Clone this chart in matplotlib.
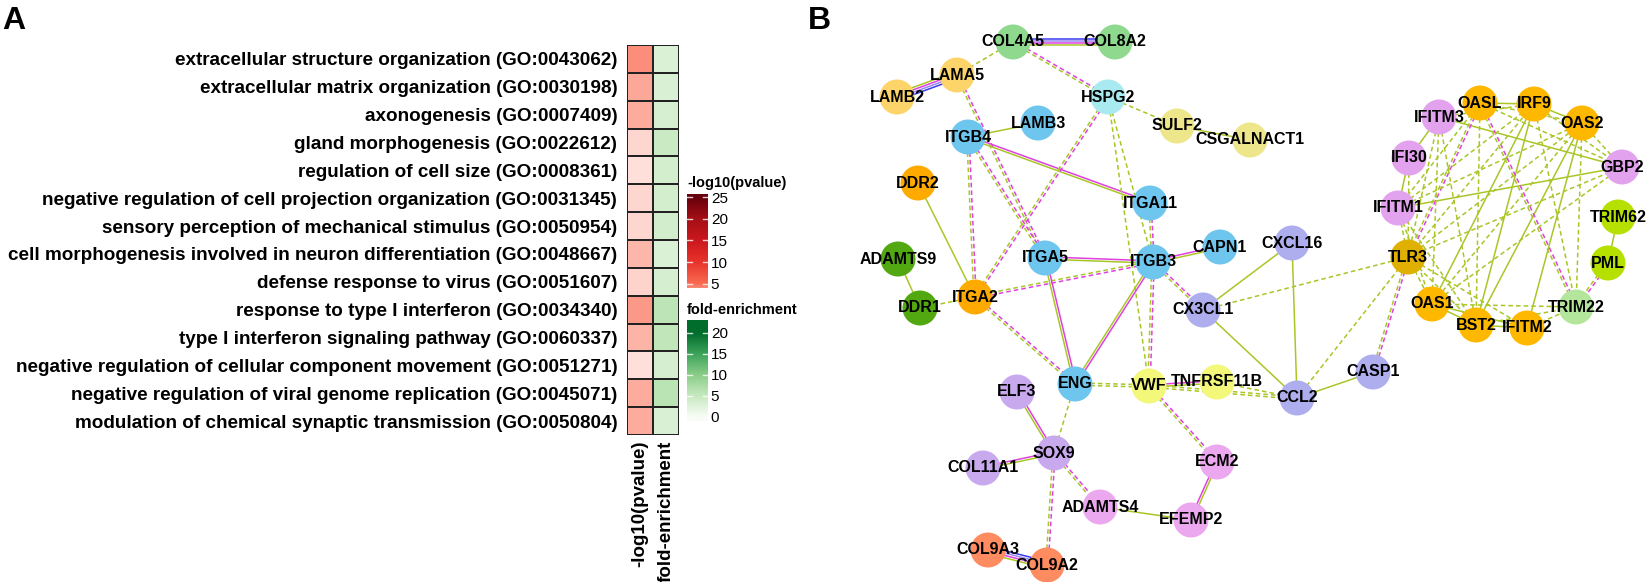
import numpy as np
import matplotlib
matplotlib.use("Agg")
import matplotlib.pyplot as plt
from matplotlib.colors import LinearSegmentedColormap, Normalize
from matplotlib.patches import Circle

plt.rcParams['font.family'] = ['Liberation Sans', 'DejaVu Sans']

W, H = 1648, 582

# ---- panel A data ----
terms = [
    "extracellular structure organization (GO:0043062)",
    "extracellular matrix organization (GO:0030198)",
    "axonogenesis (GO:0007409)",
    "gland morphogenesis (GO:0022612)",
    "regulation of cell size (GO:0008361)",
    "negative regulation of cell projection organization (GO:0031345)",
    "sensory perception of mechanical stimulus (GO:0050954)",
    "cell morphogenesis involved in neuron differentiation (GO:0048667)",
    "defense response to virus (GO:0051607)",
    "response to type I interferon (GO:0034340)",
    "type I interferon signaling pathway (GO:0060337)",
    "negative regulation of cellular component movement (GO:0051271)",
    "negative regulation of viral genome replication (GO:0045071)",
    "modulation of chemical synaptic transmission (GO:0050804)",
]
neglog_p = [3.9, 3.0, 2.9, 1.4, 1.15, 1.45, 1.45, 2.5, 1.55, 3.5, 2.6, 1.15, 2.9, 2.9]
fold_enr = [3.0, 3.2, 3.4, 4.8, 3.8, 3.8, 4.0, 3.0, 3.6, 5.8, 5.6, 3.6, 6.0, 3.2]
col_labels = ["-log10(pvalue)", "fold-enrichment"]
p_ticks = [5, 10, 15, 20, 25]
f_ticks = [0, 5, 10, 15, 20]

# ---- panel B data ----
nodes = ["COL4A5", "COL8A2", "LAMA5", "LAMB2", "HSPG2", "LAMB3", "ITGB4", "SULF2",
         "CSGALNACT1", "DDR2", "ITGA11", "ITGA5", "ITGB3", "CAPN1", "CXCL16",
         "ADAMTS9", "DDR1", "ITGA2", "CX3CL1", "ENG", "VWF", "TNFRSF11B", "CCL2",
         "ELF3", "SOX9", "COL11A1", "ADAMTS4", "EFEMP2", "ECM2", "COL9A3", "COL9A2",
         "CASP1", "TLR3", "IFITM1", "IFI30", "IFITM3", "OASL", "IRF9", "OAS2",
         "GBP2", "TRIM62", "PML", "TRIM22", "IFITM2", "BST2", "OAS1"]
node_x = [1013, 1115, 957, 897, 1108, 1038, 968, 1177,
          1250, 918, 1150, 1045, 1153, 1220, 1292,
          898, 920, 975, 1203, 1075, 1149, 1217, 1297,
          1017, 1054, 983, 1100, 1191, 1217, 988, 1047,
          1373, 1408, 1398, 1409, 1439, 1480, 1534, 1582,
          1622, 1618, 1608, 1576, 1527, 1476, 1432]
node_y = [42, 42, 75, 97, 97, 123, 137, 126,
          140, 183, 203, 258, 262, 247, 243,
          259, 308, 297, 310, 384, 386, 382, 398,
          392, 453, 468, 507, 520, 462, 550, 565,
          372, 257, 208, 158, 117, 103, 104, 123,
          167, 217, 263, 307, 328, 325, 304]
node_col = ["#8fd98f", "#8fd98f", "#fcd46a", "#fcd46a", "#a8eaef", "#6ec6ee", "#6ec6ee", "#eee68a",
            "#eee68a", "#ffaa00", "#6ec6ee", "#6ec6ee", "#6ec6ee", "#6ec6ee", "#aeaeee",
            "#52a810", "#52a810", "#ffaa00", "#aeaeee", "#6ec6ee", "#f3f77a", "#f3f77a", "#aeaeee",
            "#c9a9ee", "#c9a9ee", "#c9a9ee", "#eca8ee", "#eca8ee", "#eca8ee", "#ff8c60", "#ff8c60",
            "#aeaeee", "#e0b000", "#e3a2ee", "#e3a2ee", "#e3a2ee", "#ffb800", "#ffb800", "#ffb800",
            "#e3a2ee", "#b5e000", "#b5e000", "#b3e59b", "#ffb800", "#ffb800", "#ffb800"]

# edge style: s solid green, d dashed green, sm solid magenta+green,
# dm dashed magenta+green, dd double dashed green, bms blue+magenta+green
edges = [
    ("COL4A5", "COL8A2", "bms"), ("COL4A5", "LAMA5", "d"), ("COL4A5", "HSPG2", "dm"),
    ("LAMA5", "LAMB2", "bms"), ("LAMA5", "ITGA5", "dm"), ("ITGB4", "LAMB3", "s"),
    ("ITGB4", "ITGA11", "sm"), ("ITGB4", "ITGA5", "dm"), ("ITGB4", "ITGA2", "dm"),
    ("HSPG2", "SULF2", "d"), ("SULF2", "CSGALNACT1", "s"), ("HSPG2", "ITGA2", "dm"),
    ("HSPG2", "VWF", "d"), ("HSPG2", "ITGB3", "d"), ("ITGA11", "ITGB3", "dm"),
    ("ITGA5", "ITGB3", "sm"), ("ITGB3", "CAPN1", "sm"), ("ITGB3", "ITGA2", "dm"),
    ("ITGB3", "CX3CL1", "dm"), ("ITGB3", "VWF", "dm"), ("ITGB3", "ENG", "sm"),
    ("ITGA5", "ENG", "sm"), ("ITGA2", "ENG", "dm"), ("ITGA2", "DDR2", "s"),
    ("ITGA2", "DDR1", "d"), ("DDR1", "ADAMTS9", "s"), ("ENG", "VWF", "dd"),
    ("ENG", "SOX9", "d"), ("ELF3", "SOX9", "sm"), ("COL11A1", "SOX9", "sm"),
    ("SOX9", "ADAMTS4", "dm"), ("SOX9", "COL9A2", "dm"), ("COL9A3", "COL9A2", "bms"),
    ("ADAMTS4", "EFEMP2", "s"), ("EFEMP2", "ECM2", "sm"), ("VWF", "ECM2", "dm"),
    ("VWF", "TNFRSF11B", "sm"), ("VWF", "CCL2", "dd"), ("TNFRSF11B", "CCL2", "d"),
    ("CX3CL1", "CXCL16", "s"), ("CX3CL1", "CCL2", "s"), ("CXCL16", "CCL2", "s"),
    ("CCL2", "CASP1", "s"), ("CX3CL1", "TLR3", "d"), ("CCL2", "TLR3", "d"),
    ("TLR3", "CASP1", "dm"),
    ("IFITM3", "IFI30", "s"), ("IFI30", "IFITM1", "s"), ("IFITM3", "GBP2", "s"),
    ("IFITM1", "GBP2", "s"), ("OASL", "IRF9", "s"), ("IRF9", "OAS2", "s"),
    ("IRF9", "OAS1", "s"), ("IRF9", "BST2", "s"), ("OAS2", "BST2", "s"),
    ("OAS2", "IFITM2", "s"), ("OAS1", "BST2", "s"), ("OAS1", "IFITM2", "s"),
    ("BST2", "IFITM2", "s"), ("TRIM62", "PML", "s"),
    ("OASL", "TLR3", "dm"), ("OASL", "TRIM22", "dm"), ("PML", "TRIM22", "dm"),
    ("IFITM3", "TLR3", "d"), ("IFITM3", "OAS1", "d"), ("IFITM3", "BST2", "d"),
    ("IFITM3", "IRF9", "d"), ("IFI30", "TLR3", "d"), ("IFITM1", "TLR3", "d"),
    ("IFITM1", "OASL", "d"), ("IFITM1", "IRF9", "d"), ("IFITM1", "OAS2", "d"),
    ("IFITM1", "OAS1", "d"), ("IFITM1", "BST2", "d"), ("TLR3", "OAS1", "d"),
    ("TLR3", "BST2", "d"), ("TLR3", "IFITM2", "d"), ("TLR3", "IRF9", "d"),
    ("TLR3", "OAS2", "d"), ("TLR3", "GBP2", "d"), ("OASL", "OAS2", "d"),
    ("OASL", "BST2", "d"), ("OASL", "GBP2", "d"), ("IRF9", "GBP2", "d"),
    ("IRF9", "TRIM22", "d"), ("OAS2", "GBP2", "d"), ("OAS2", "TRIM22", "d"),
    ("OAS2", "OAS1", "d"), ("GBP2", "OAS1", "d"), ("OAS1", "TRIM22", "d"),
    ("BST2", "TRIM22", "d"), ("IFITM2", "TRIM22", "d"),
]

GREEN, MAG, BLUE = "#a9c627", "#e040e0", "#3a3af0"
DASH = (0, (3, 2))
styles = {
    "s": [(GREEN, "-")],
    "d": [(GREEN, DASH)],
    "sm": [(MAG, "-"), (GREEN, "-")],
    "dm": [(MAG, DASH), (GREEN, DASH)],
    "dd": [(GREEN, DASH), (GREEN, DASH)],
    "bms": [(BLUE, "-"), ("#9a8af0", "-"), (MAG, "-"), (GREEN, "-")],
}

red_cmap = LinearSegmentedColormap.from_list(
    "red", [(0, "#ffffff"), (0.2, "#f96b51"), (0.4, "#e8322b"),
            (0.6, "#cb181d"), (0.8, "#a50f15"), (1, "#67000d")])
green_cmap = LinearSegmentedColormap.from_list(
    "green", [(0, "#f7fcf5"), (0.25, "#c7e9c0"), (0.5, "#8acd88"),
              (0.75, "#3da35a"), (1, "#006d2c")])
p_norm = Normalize(0, 25)
f_norm = Normalize(0, 20)

fig = plt.figure(figsize=(W / 100, H / 100), dpi=100)

# ---- heatmap ----
ax = fig.add_axes([627 / W, 1 - 435 / H, 52 / W, 390 / H])
n = len(terms)
yy = np.arange(n + 1)
ax.pcolormesh([0, 1], yy, np.array(neglog_p)[:, None], cmap=red_cmap, norm=p_norm,
              edgecolors="#222222", linewidth=1.3)
ax.pcolormesh([1, 2], yy, np.array(fold_enr)[:, None], cmap=green_cmap, norm=f_norm,
              edgecolors="#222222", linewidth=1.3)
ax.set_xlim(0, 2)
ax.set_ylim(n, 0)
ax.set_yticks(np.arange(n) + 0.5)
ax.set_yticklabels(terms, fontsize=13.6, fontweight="bold")
ax.set_xticks([0.5, 1.5])
ax.set_xticklabels(col_labels, rotation=90, fontsize=13.5, fontweight="bold", va="top")
ax.tick_params(length=0, axis="y", pad=7)
ax.tick_params(length=0, axis="x", pad=4)
for s in ax.spines.values():
    s.set_visible(False)


def color_bar(top, bottom, vlo, vhi, cmap, norm, ticks, title, title_y):
    cax = fig.add_axes([687 / W, 1 - bottom / H, 21 / W, (bottom - top) / H])
    grad = np.linspace(vlo, vhi, 200)[:, None]
    cax.imshow(grad, cmap=cmap, norm=norm, aspect="auto", origin="lower",
               extent=[0, 1, vlo, vhi])
    cax.set_xlim(0, 1)
    cax.set_ylim(vlo, vhi)
    for t in ticks:
        cax.plot([0, 0.22], [t, t], color="white", lw=1.0, alpha=0.8)
        cax.plot([0.78, 1], [t, t], color="white", lw=1.0, alpha=0.8)
    cax.set_xticks([])
    cax.set_yticks(ticks)
    cax.yaxis.tick_right()
    cax.tick_params(length=0, pad=2, labelsize=11)
    for s in cax.spines.values():
        s.set_visible(False)
    fig.text(687 / W, 1 - title_y / H, title, fontsize=10.5, fontweight="bold", va="center")


color_bar(194, 288, 4.0, 25.7, red_cmap, p_norm, p_ticks, "-log10(pvalue)", 183)
color_bar(320, 421, -1.0, 23.0, green_cmap, f_norm, f_ticks, "fold-enrichment", 310)

fig.text(2 / W, 1 - 6 / H, "A", fontsize=23, fontweight="bold", va="top")
fig.text(808 / W, 1 - 6 / H, "B", fontsize=23, fontweight="bold", va="top")

# ---- network ----
axn = fig.add_axes([790 / W, 0, (W - 790) / W, 1])
axn.set_xlim(790, W)
axn.set_ylim(H, 0)
axn.axis("off")
pos = {nm: (x, y) for nm, x, y in zip(nodes, node_x, node_y)}

for a, b, st in edges:
    x1, y1 = pos[a]
    x2, y2 = pos[b]
    L = np.hypot(x2 - x1, y2 - y1)
    nx, ny = -(y2 - y1) / L, (x2 - x1) / L
    specs = styles[st]
    k = len(specs)
    for i, (c, ls) in enumerate(specs):
        off = (i - (k - 1) / 2) * 2.3
        axn.plot([x1 + nx * off, x2 + nx * off], [y1 + ny * off, y2 + ny * off],
                 color=c, ls=ls, lw=1.1, zorder=1, solid_capstyle="butt")

for nm, x, y, c in zip(nodes, node_x, node_y, node_col):
    axn.add_patch(Circle((x, y), 17.5, facecolor=c, edgecolor="none", zorder=2))
    axn.text(x, y, nm, ha="center", va="center", fontsize=11.5, fontweight="bold", zorder=3)

fig.savefig("out.png", dpi=100)
